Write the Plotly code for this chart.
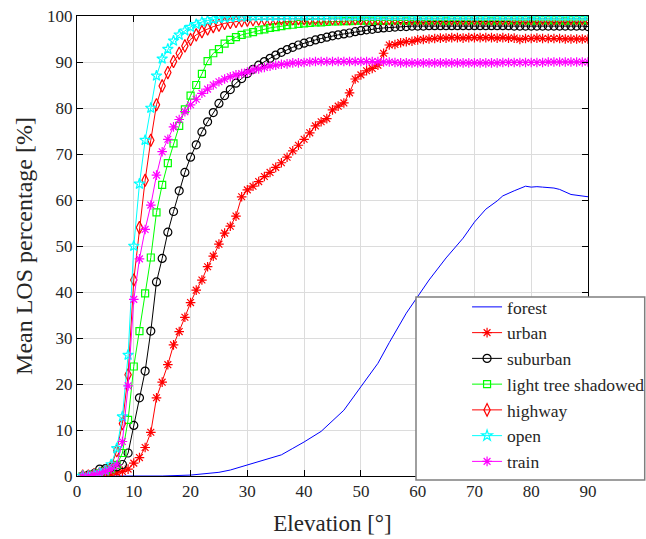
import plotly.graph_objects as go

elevation = list(range(1, 91))

forest_x = [1, 5, 10, 15, 20, 22, 25, 27, 30, 33, 36, 38, 40, 43, 45, 47, 50, 53, 55, 58,
            60, 62, 65, 68, 70, 72, 74, 75, 77, 79, 80, 81, 82, 84, 85, 87, 90]
forest_y = [0, 0, 0, 0, 0.2, 0.4, 0.8, 1.3, 2.4, 3.4, 4.6, 6.0, 7.4, 9.7, 12.0, 14.3, 19.4, 24.5, 29.0, 35.4,
            39.0, 42.6, 47.4, 51.7, 55.2, 58.0, 59.8, 60.9, 62.0, 63.0, 62.8, 62.9, 62.8, 62.6, 62.3, 61.2, 60.7]

urban = [0, 0, 0, 0, 0.2, 0.4, 0.7, 1.0, 1.5, 2.8,
         4.0, 6.2, 9.5, 17.0, 20.4, 24.2, 28.5, 31.4, 34.5, 37.7,
         40.4, 42.6, 45.5, 47.8, 50.4, 52.8, 54.3, 56.5, 60.7, 62.2,
         63.0, 64.0, 65.1, 66.0, 67.1, 68.1, 69.3, 70.7, 71.9, 73.2,
         74.6, 76.1, 77.0, 77.7, 79.6, 80.4, 81.1, 83.3, 86.3, 87.2,
         88.1, 88.6, 89.3, 91.9, 93.7, 93.8, 94.2, 94.4, 94.5, 94.8,
         94.9, 95.0, 95.1, 95.2, 95.2, 95.3, 95.3, 95.2, 95.3, 95.3,
         95.3, 95.3, 95.3, 95.2, 95.3, 95.2, 95.2, 94.9, 95.1, 95.1,
         95.2, 95.1, 95.1, 95.1, 95.1, 95.0, 95.0, 95.0, 95.0, 95.0]

suburban = [0, 0.2, 0.5, 1.5, 1.6, 1.8, 2.0, 2.5, 5.0, 11.0,
            17.0, 22.8, 31.5, 42.2, 47.3, 53.0, 57.5, 62.0, 66.0, 69.3,
            72.0, 74.8, 77.0, 79.0, 81.0, 82.7, 84.0, 85.4, 86.4, 87.5,
            88.4, 89.3, 90.1, 90.8, 91.5, 92.1, 92.7, 93.2, 93.7, 94.1,
            94.4, 94.8, 95.1, 95.4, 95.7, 95.9, 96.1, 96.3, 96.6, 96.8,
            97.0, 97.1, 97.3, 97.4, 97.5, 97.6, 97.7, 97.7, 97.8, 97.8,
            97.8, 97.9, 97.9, 97.9, 97.9, 97.9, 97.9, 97.9, 97.9, 97.9,
            97.9, 97.9, 97.9, 97.9, 97.9, 97.9, 97.8, 97.8, 97.8, 97.8,
            97.8, 97.8, 97.8, 97.8, 97.8, 97.8, 97.8, 97.8, 97.8, 97.7]

light_tree = [0, 0, 0.3, 0.6, 1.0, 1.5, 2.4, 5.0, 12.2, 23.8,
              31.5, 39.7, 47.5, 57.3, 63.3, 68.0, 72.3, 76.1, 79.7, 82.7,
              85.0, 87.4, 90.2, 91.9, 92.8, 94.0, 94.8, 95.4, 95.9, 96.2,
              96.5, 96.9, 97.1, 97.4, 97.6, 97.8, 98.0, 98.1, 98.3, 98.4,
              98.5, 98.6, 98.6, 98.7, 98.8, 98.8, 98.9, 98.9, 99.0, 99.0,
              99.0, 99.0, 99.1, 99.0, 99.1, 99.1, 99.1, 99.0, 99.1, 99.1,
              99.1, 99.1, 99.1, 99.1, 99.0, 99.1, 99.1, 99.1, 99.1, 99.1,
              99.1, 99.1, 99.0, 99.1, 99.1, 99.1, 99.1, 99.1, 99.1, 99.0,
              99.1, 99.1, 99.1, 99.1, 99.1, 99.0, 99.1, 99.1, 99.1, 99.1]

highway = [0, 0, 0.3, 0.6, 1.0, 2.0, 5.5, 11.4, 22.0, 42.6,
           54.0, 64.3, 73.0, 80.7, 84.8, 87.7, 90.1, 91.9, 93.5, 94.9,
           95.9, 96.6, 97.2, 97.7, 98.0, 98.4, 98.6, 98.8, 99.0, 99.1,
           99.2, 99.3, 99.3, 99.3, 99.4, 99.4, 99.4, 99.4, 99.4, 99.4,
           99.4, 99.4, 99.4, 99.4, 99.4, 99.4, 99.4, 99.4, 99.4, 99.4,
           99.4, 99.4, 99.4, 99.4, 99.4, 99.4, 99.4, 99.4, 99.4, 99.4,
           99.4, 99.4, 99.4, 99.4, 99.4, 99.4, 99.4, 99.4, 99.4, 99.4,
           99.4, 99.4, 99.4, 99.4, 99.4, 99.4, 99.4, 99.4, 99.4, 99.4,
           99.4, 99.4, 99.4, 99.4, 99.4, 99.4, 99.4, 99.4, 99.4, 99.4]

open_area = [0, 0, 0.3, 0.7, 1.2, 2.5, 6.0, 12.9, 26.3, 50.0,
             63.5, 73.0, 80.0, 87.0, 90.7, 92.8, 94.6, 95.9, 96.8, 97.6,
             98.2, 98.7, 99.0, 99.3, 99.5, 99.6, 99.7, 99.8, 99.8, 99.9,
             99.9, 99.9, 99.9, 99.9, 99.9, 99.9, 100, 100, 100, 100,
             100, 100, 100, 100, 100, 100, 100, 100, 100, 100,
             100, 100, 100, 100, 100, 100, 100, 100, 100, 100,
             100, 100, 100, 100, 100, 100, 100, 100, 100, 100,
             100, 100, 100, 100, 100, 100, 100, 100, 100, 100,
             100, 100, 100, 100, 100, 100, 100, 100, 100, 100]

train = [0, 0, 0.3, 0.6, 1.0, 1.5, 2.4, 7.5, 19.6, 38.4,
         47.2, 53.6, 58.9, 65.4, 70.5, 73.2, 75.9, 77.5, 79.2, 80.7,
         81.9, 83.2, 84.1, 85.0, 85.7, 86.3, 86.8, 87.2, 87.5, 87.8,
         88.3, 88.5, 88.8, 89.1, 89.3, 89.5, 89.6, 89.8, 89.8, 89.9,
         90.0, 90.1, 90.1, 90.1, 90.1, 90.1, 90.1, 90.1, 90.1, 90.1,
         90.1, 90.1, 90.1, 90.0, 90.0, 89.9, 89.8, 89.8, 89.8, 89.8,
         89.8, 89.8, 89.8, 89.8, 89.8, 89.8, 89.8, 89.8, 89.8, 89.8,
         89.8, 89.8, 89.8, 89.8, 89.9, 89.9, 89.9, 89.9, 89.9, 89.9,
         89.9, 89.9, 90.0, 90.0, 90.0, 90.0, 90.0, 90.0, 90.0, 90.0]

FONT = "Liberation Serif, Times New Roman, Times, DejaVu Serif, serif"
TXT = "#262626"

fig = go.Figure()
fig.add_trace(go.Scatter(x=forest_x, y=forest_y, mode="lines", name="forest",
                         line=dict(color="blue", width=1), legendgroup="a"))

series = [
    ("urban", urban, "red", "asterisk-open", 8),
    ("suburban", suburban, "black", "circle-open", 8),
    ("light tree shadowed", light_tree, "#00ff00", "square-open", 7),
    ("highway", highway, "red", "diamond-tall-open", 9),
    ("open", open_area, "cyan", "star-open", 8),
    ("train", train, "magenta", "asterisk-open", 8),
]
for i, (name, vals, col, sym, sz) in enumerate(series):
    fig.add_trace(go.Scatter(
        x=elevation, y=vals, mode="lines+markers", name=name,
        line=dict(color=col, width=1),
        marker=dict(symbol=sym, size=sz, color=col, line=dict(color=col, width=1.2)),
        legendgroup="g%d" % i))

axis_common = dict(showline=True, linecolor="black", linewidth=1, mirror="ticks",
                   ticks="inside", ticklen=6, tickcolor="black",
                   showgrid=True, gridcolor="#dcdcdc", gridwidth=1, zeroline=False,
                   tickfont=dict(family=FONT, size=17, color=TXT))

fig.update_xaxes(range=[0, 90], tickvals=list(range(0, 91, 10)), **axis_common,
                 title=dict(text="Elevation [°]", font=dict(family=FONT, size=23, color=TXT), standoff=14))
fig.update_yaxes(range=[0, 100], tickvals=list(range(0, 101, 10)), **axis_common,
                 title=dict(text="Mean LOS percentage [%]", font=dict(family=FONT, size=24, color=TXT), standoff=7))

fig.add_shape(type="rect", xref="paper", yref="paper",
              x0=0.6634, x1=1.111, y0=-0.0087, y1=0.389,
              fillcolor="white", line=dict(color="#7f7f7f", width=1.5), layer="above")

fig.update_layout(
    width=646, height=539,
    margin=dict(l=77, r=58, t=16, b=63, autoexpand=False),
    paper_bgcolor="white", plot_bgcolor="white",
    font=dict(family=FONT, color=TXT),
    legend=dict(xref="container", yref="container",
                x=0.723, xanchor="left", y=1 - 289 / 539, yanchor="top",
                bgcolor="rgba(0,0,0,0)", borderwidth=0,
                font=dict(family=FONT, size=17.5, color=TXT),
                traceorder="grouped", tracegroupgap=0),
    showlegend=True,
)

fig.write_html("out.html")
